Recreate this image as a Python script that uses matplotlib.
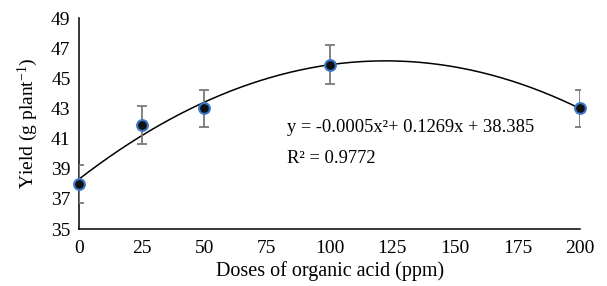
import numpy as np
import matplotlib
matplotlib.use('Agg')
import matplotlib.pyplot as plt

# Data
doses = [0, 25, 50, 100, 200]
yields = [38.0, 41.9, 43.0, 45.9, 43.0]
errors = [1.25, 1.25, 1.25, 1.3, 1.25]
x_ticks = [0, 25, 50, 75, 100, 125, 150, 175, 200]
y_ticks = [35, 37, 39, 41, 43, 45, 47, 49]

plt.rcParams['font.family'] = ['Liberation Serif', 'DejaVu Serif']
plt.rcParams['mathtext.fontset'] = 'custom'
plt.rcParams['mathtext.rm'] = 'Liberation Serif'

fig = plt.figure(figsize=(6.07, 2.86), dpi=100)
ax = fig.add_axes([0.130, 0.199, 0.826, 0.738])

# quadratic trendline fitted to the points
coef = np.polyfit(doses, yields, 2)
xs = np.linspace(0, 200, 300)
ax.plot(xs, np.polyval(coef, xs), color='black', lw=1.1, zorder=2)

ax.errorbar(doses, yields, yerr=errors, fmt='none', ecolor='#7a7a7a',
            elinewidth=1.3, capsize=3.5, capthick=1.3, zorder=3)
ax.scatter(doses, yields, s=60, color='#111111', edgecolors='#3a78c8',
           linewidths=1.5, zorder=4, clip_on=False)

ax.text(83, 41.75, 'y = -0.0005x²+ 0.1269x + 38.385', fontsize=13.3, va='center')
ax.text(83, 39.7, 'R² = 0.9772', fontsize=13.3, va='center')

ax.set_xlim(0, 200)
ax.set_ylim(35, 49)
ax.set_xticks(x_ticks)
ax.set_yticks(y_ticks)
ax.tick_params(length=0, labelsize=14, pad=6)
ax.tick_params(axis='x', pad=8)
for s in ['top', 'right']:
    ax.spines[s].set_visible(False)
for s in ['left', 'bottom']:
    ax.spines[s].set_linewidth(1.1)

ax.set_xlabel('Doses of organic acid (ppm)', fontsize=14.5, labelpad=3)
ax.set_ylabel('Yield (g plant$\\mathregular{^{-1}}$)', fontsize=14, labelpad=8)

fig.savefig('out.png', dpi=100)
